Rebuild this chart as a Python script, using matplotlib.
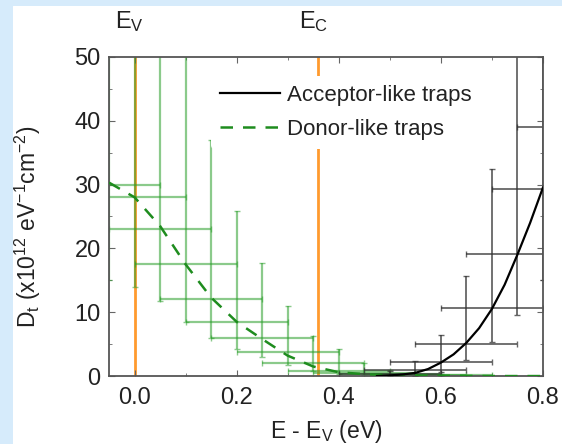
import matplotlib
matplotlib.use("Agg")
import matplotlib.pyplot as plt
import matplotlib.transforms as mtransforms
from matplotlib.lines import Line2D
from matplotlib.ticker import MultipleLocator

plt.rcParams["font.family"] = ["Liberation Sans", "DejaVu Sans"]
plt.rcParams["mathtext.fontset"] = "custom"
plt.rcParams["mathtext.rm"] = "Liberation Sans"
plt.rcParams["mathtext.it"] = "Liberation Sans"

# Donor-like traps (green), points with x/y error bars
donor_x = [-0.05, 0.0, 0.05, 0.10, 0.15, 0.20, 0.25, 0.30, 0.35, 0.40, 0.45, 0.50, 0.55, 0.60]
donor_y = [30.0, 28.0, 23.0, 17.5, 12.0, 8.5, 6.0, 3.7, 2.0, 0.8, 0.5, 0.3, 0.2, 0.1]
donor_lo = [15.0, 14.0, 11.8, 8.4, 6.0, 4.2, 3.0, 1.7, 0.8, 0.3, 0.2, 0.1, 0.05, 0.0]
donor_hi = [60.0, 60.0, 60.0, 60.0, 37.0, 25.8, 17.7, 11.0, 6.2, 4.2, 2.1, 0.9, 0.5, 0.3]
donor_dx = 0.1

# Acceptor-like traps (black)
acc_x = [0.50, 0.55, 0.60, 0.65, 0.70, 0.75, 0.80, 0.85]
acc_y = [0.3, 0.9, 2.2, 5.1, 10.7, 19.1, 29.3, 39.0]
acc_lo = [0.0, 0.0, 0.7, 2.5, 5.4, 9.6, 15.0, 20.0]
acc_hi = [0.8, 2.4, 6.5, 15.6, 32.4, 60.0, 60.0, 60.0]
acc_dx = 0.1

# fitted curves
donor_fit_x = [-0.05, 0.0, 0.05, 0.10, 0.15, 0.20, 0.25, 0.30, 0.35, 0.40, 0.45, 0.50, 0.60, 0.70, 0.80]
donor_fit_y = [30.3, 28.0, 23.5, 17.5, 12.3, 8.5, 5.8, 3.2, 1.5, 0.6, 0.3, 0.15, 0.05, 0.0, 0.0]
acc_fit_x = [0.475, 0.5, 0.525, 0.55, 0.575, 0.6, 0.625, 0.65, 0.675, 0.7, 0.725, 0.75, 0.775, 0.8]
acc_fit_y = [0.0, 0.1, 0.25, 0.5, 1.1, 2.1, 3.4, 5.2, 7.5, 10.5, 14.3, 19.0, 24.0, 29.5]

band_edges = [0.0, 0.36]
band_labels = [r"$\mathregular{E_V}$", r"$\mathregular{E_C}$"]

fig = plt.figure(figsize=(5.62, 4.44), dpi=100)
fig.patch.set_facecolor("#d6ebfb")
# white slide area behind the chart
bg = fig.add_axes([13 / 562, 0, 1, 1 - 6 / 444])
bg.axis("off")
bg.add_patch(plt.Rectangle((0, 0), 1, 1, transform=bg.transAxes, color="white"))

ax = fig.add_axes([0.194, 0.153, 0.772, 0.719])
ax.set_facecolor("white")

for e in band_edges:
    ax.axvline(e, color="#ff9a2e", lw=2, zorder=1)

def asym(y, lo, hi):
    return [[yy - l for yy, l in zip(y, lo)], [h - yy for yy, h in zip(y, hi)]]

ax.errorbar(donor_x, donor_y, xerr=donor_dx, yerr=asym(donor_y, donor_lo, donor_hi),
            fmt="none", ecolor="#2ca02c", alpha=0.55, elinewidth=1.6, capsize=2, zorder=2)
ax.errorbar(acc_x, acc_y, xerr=acc_dx, yerr=asym(acc_y, acc_lo, acc_hi),
            fmt="none", ecolor="#333333", alpha=0.75, elinewidth=1.3, capsize=2, zorder=2)

ax.plot(donor_fit_x, donor_fit_y, ls=(0, (5, 4)), color="#1e8c1e", lw=1.8, zorder=3)
ax.plot(acc_fit_x, acc_fit_y, color="black", lw=1.6, zorder=3)

ax.set_xlim(-0.05, 0.8)
ax.set_ylim(0, 50)
ax.xaxis.set_major_locator(MultipleLocator(0.2))
ax.xaxis.set_minor_locator(MultipleLocator(0.1))
ax.yaxis.set_major_locator(MultipleLocator(10))
ax.yaxis.set_minor_locator(MultipleLocator(5))
ax.tick_params(which="both", direction="in", top=True, right=True, color="#666666")
ax.tick_params(which="major", length=4, labelsize=17, labelcolor="#222222")
ax.tick_params(axis="x", which="major", pad=8)
ax.tick_params(axis="y", which="major", pad=6)
ax.tick_params(which="minor", length=2)
for s in ax.spines.values():
    s.set_color("#555555")
    s.set_linewidth(1.3)

ax.set_xlabel(r"E - $\mathregular{E_V}$ (eV)", fontsize=16.5, labelpad=6, color="#222222")
ax.set_ylabel(r"$\mathregular{D_t}$ (x10$^{\mathregular{12}}$ eV$^{\mathregular{-1}}$cm$^{\mathregular{-2}}$)",
              fontsize=16.5, color="#222222")
ax.yaxis.set_label_coords(-0.152, 0.467)

trans = mtransforms.blended_transform_factory(ax.transData, ax.transAxes)
for e, lab in zip(band_edges, band_labels):
    ax.text(e - 0.01, 1.11, lab, transform=trans, ha="center", va="center", fontsize=17,
            color="#222222")

handles = [
    Line2D([0], [0], color="black", lw=1.6, label="Acceptor-like traps"),
    Line2D([0], [0], color="#1e8c1e", lw=1.8, ls=(0, (5, 4)), label="Donor-like traps"),
]
leg = ax.legend(handles=handles, loc="upper left", bbox_to_anchor=(0.235, 0.94), fontsize=16,
                frameon=True, handlelength=2.7, handletextpad=0.3, borderaxespad=0,
                labelspacing=0.6, labelcolor="#222222")
leg.get_frame().set_facecolor("white")
leg.get_frame().set_edgecolor("none")
leg.get_frame().set_alpha(1)
leg.set_zorder(5)

fig.savefig("out.png", dpi=100, facecolor=fig.get_facecolor())
